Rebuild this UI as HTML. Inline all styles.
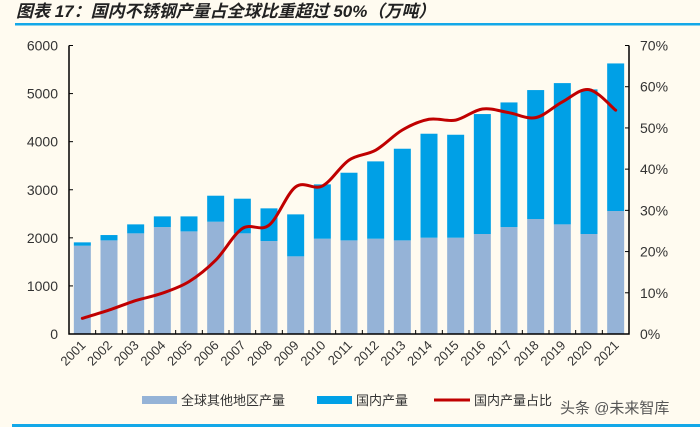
<!DOCTYPE html>
<html><head><meta charset="utf-8"><style>
html,body{margin:0;padding:0;background:#fffbf0;}
svg{display:block;font-family:"Liberation Sans","Noto Sans CJK SC",sans-serif;}
</style></head><body>
<svg width="700" height="427" viewBox="0 0 700 427">
<text x="16" y="17" font-size="17" font-style="italic" font-weight="bold" fill="#222">图表 17：国内不锈钢产量占全球比重超过 50%（万吨）</text>
<rect x="15" y="23" width="685" height="2.5" fill="#13a8e8"/>
<rect x="12" y="424" width="688" height="3" fill="#13a8e8"/>
<g id="plot"></g>
<g>
<rect x="142" y="396" width="35" height="8" fill="#95b3d7"/>
<text x="181" y="405" font-size="13" fill="#333">全球其他地区产量</text>
<rect x="317" y="396" width="35" height="8" fill="#00a0e6"/>
<text x="356" y="405" font-size="13" fill="#333">国内产量</text>
<rect x="434" y="398.5" width="36" height="3" fill="#c00000"/>
<text x="474" y="405" font-size="13" fill="#333">国内产量占比</text>
<text x="560" y="413" font-size="15" fill="#555">头条 @未来智库</text>
</g>
</svg>
<script>
const years=["2001","2002","2003","2004","2005","2006","2007","2008","2009","2010","2011","2012","2013","2014","2015","2016","2017","2018","2019","2020","2021"];
const totals=[1906,2058,2280,2446,2446,2876,2814,2613,2488,3112,3354,3590,3853,4165,4144,4574,4816,5073,5218,5087,5627];
const others=[1836,1947,2093,2224,2134,2335,2093,1933,1615,1982,1947,1982,1947,2003,2003,2079,2224,2391,2280,2079,2557];
const share=[3.8,5.8,8.1,9.9,12.7,17.9,25.6,26.4,35.7,35.9,42.2,44.6,49.5,52.1,51.9,54.6,53.7,52.5,56.3,59.3,54.3];
const leftTicks=[0,1000,2000,3000,4000,5000,6000];
const rightTicks=[0,10,20,30,40,50,60,70];
const NS="http://www.w3.org/2000/svg";
const g=document.getElementById('plot');
const X0=69,X1=629,Y0=334,Y1=45.5;
const step=(X1-X0)/years.length;
const cx=i=>X0+step*(i+0.5);
const yL=v=>Y0-(v/6000)*(Y0-Y1);
const yR=v=>Y0-(v/70)*(Y0-Y1);
function mk(t,a){const e=document.createElementNS(NS,t);for(const k in a)e.setAttribute(k,a[k]);g.appendChild(e);return e;}
const bw=17;
years.forEach((y,i)=>{
  const r1=mk('rect',{x:cx(i)-bw/2,y:yL(others[i]),width:bw,height:Y0-yL(others[i]),fill:'#95b3d7'});
  
  
  const r2=mk('rect',{x:cx(i)-bw/2,y:yL(totals[i]),width:bw,height:yL(others[i])-yL(totals[i]),fill:'#00a0e6'});
  
  
  const t=mk('text',{x:cx(i)+4,y:346,'font-size':13,fill:'#333','text-anchor':'end',transform:`rotate(-45 ${cx(i)+4} 346)`});
  t.textContent=y;
  
  
});
// axes
let a=mk('path',{d:`M${X0},${Y1}V${Y0}H${X1}V${Y1}`,stroke:'#000','stroke-width':1.5,fill:'none'});


for(let i=0;i<=years.length;i++){const t=mk('line',{x1:X0+step*i,x2:X0+step*i,y1:Y0,y2:Y0-4,stroke:'#000'});}
leftTicks.forEach(v=>{
  const l=mk('line',{x1:X0,x2:X0+4,y1:yL(v),y2:yL(v),stroke:'#000'});
  
  
  const t=mk('text',{x:X0-11,y:yL(v)+5,'font-size':14,fill:'#333','text-anchor':'end'});t.textContent=v;
  
  
});
rightTicks.forEach(v=>{
  const l=mk('line',{x1:X1-4,x2:X1,y1:yR(v),y2:yR(v),stroke:'#000'});
  
  
  const t=mk('text',{x:X1+11,y:yR(v)+5,'font-size':14,fill:'#333'});t.textContent=v+'%';
  
  
});
// smooth line
const pts=share.map((v,i)=>[cx(i),yR(v)]);
let d=`M${pts[0][0]},${pts[0][1]}`;
for(let i=0;i<pts.length-1;i++){
  const p0=pts[i-1]||pts[i],p1=pts[i],p2=pts[i+1],p3=pts[i+2]||p2;
  d+=`C${p1[0]+(p2[0]-p0[0])/6},${p1[1]+(p2[1]-p0[1])/6} ${p2[0]-(p3[0]-p1[0])/6},${p2[1]-(p3[1]-p1[1])/6} ${p2[0]},${p2[1]}`;
}
const ln=mk('path',{d:d,stroke:'#c00000','stroke-width':3,fill:'none','stroke-linecap':'round'});


</script>
</body></html>
